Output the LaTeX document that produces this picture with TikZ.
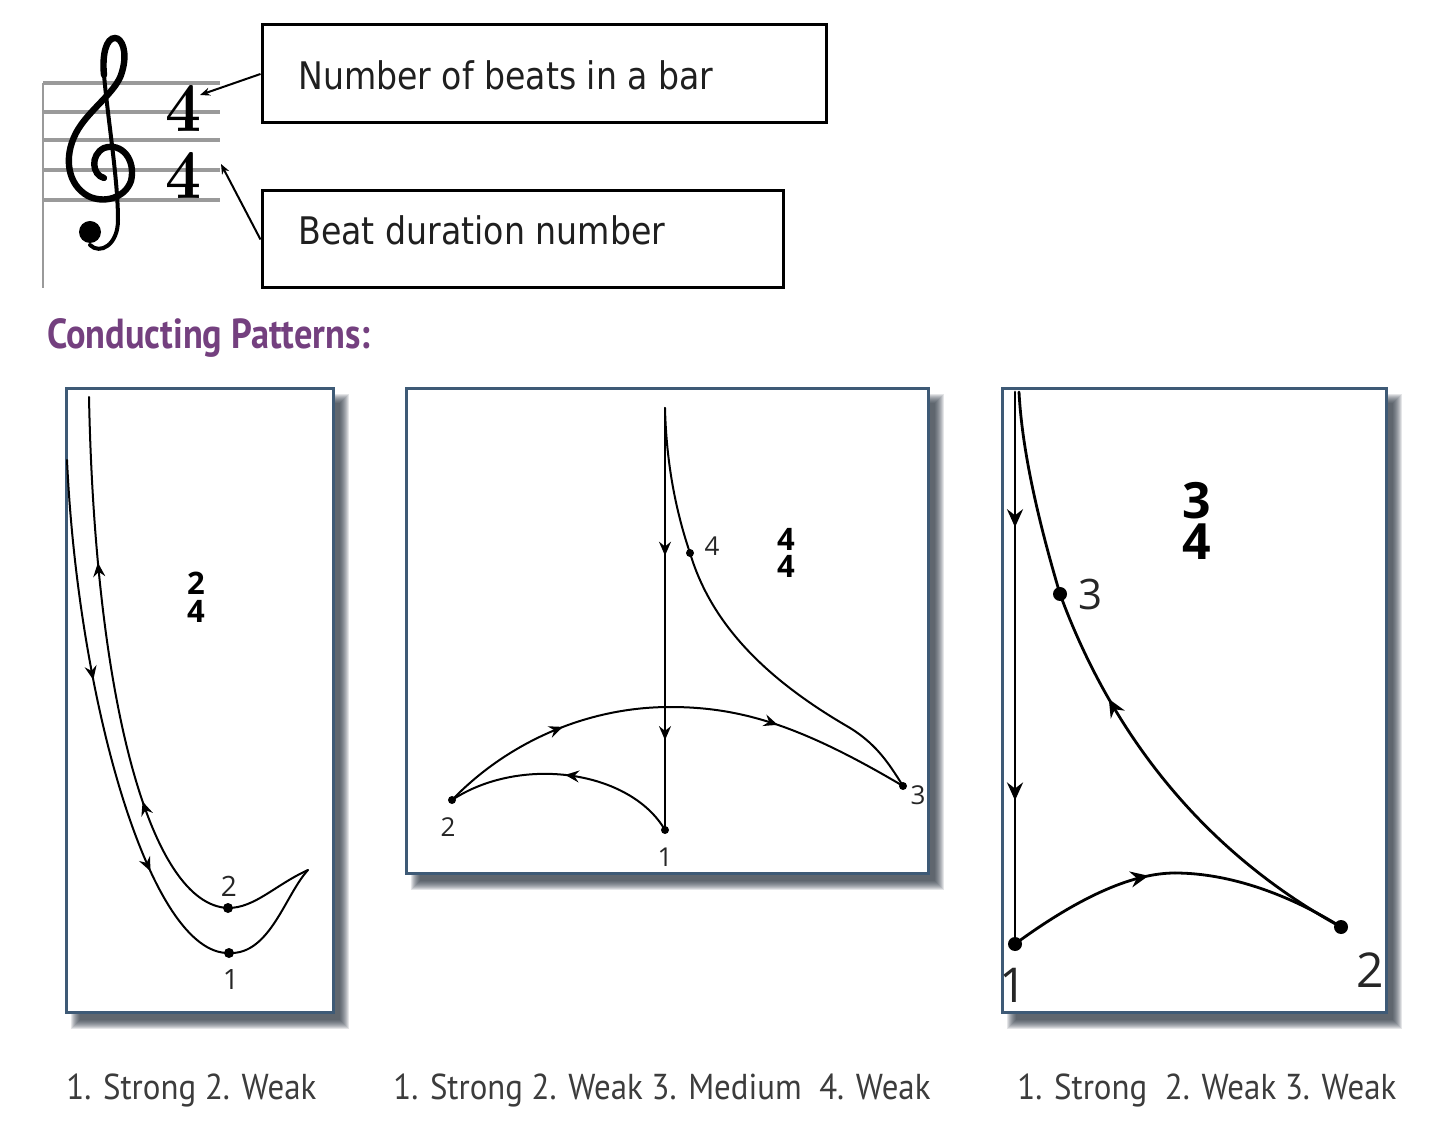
\documentclass[tikz,border=0pt]{standalone}
\usepackage{fontspec}
\usepackage{graphicx}
\usetikzlibrary{arrows.meta,decorations.markings}
\newfontfamily\boxfont{DejaVu Sans}
\newfontfamily\ptsans{PT Sans}
\newfontfamily\osans{Open Sans}
\definecolor{purp}{HTML}{74407F}
\definecolor{pborder}{HTML}{3E5A76}
\definecolor{shadowc}{HTML}{26303C}
\definecolor{labelc}{HTML}{3C3C3C}
\definecolor{staffc}{HTML}{9A9A9A}
\newcommand\pshadow[4]{\foreach \i in {0,...,9}{\fill[shadowc,opacity=0.12] ({#1+14-\i},{#2+14-\i}) rectangle ({#3+7+\i},{#4+8+\i});}}
\tikzset{
  panel/.style={draw=pborder, line width=1.5pt, fill=white, rectangle, inner sep=0pt},
  tbox/.style={draw=black, line width=1.5pt, rectangle, inner sep=0pt},
  curve/.style={line width=1pt, line cap=round},
  bcurve/.style={line width=1.4pt, line cap=round},
  dot/.style={circle, fill=black, inner sep=0pt, minimum size=#1},
  dot/.default=5pt,
  mk/.style={postaction={decorate,decoration={markings,mark=at position #1 with {\arrow{Stealth[length=7pt,width=6pt,inset=2.4pt]}}}}},
  mkb/.style={postaction={decorate,decoration={markings,mark=at position #1 with {\arrow{Stealth[length=9pt,width=8pt,inset=3pt]}}}}},
  lab/.style={inner sep=0pt, font=\osans\fontsize{14}{14}\selectfont, text=black!85},
  frac/.style={inner sep=0pt, align=center, font=\osans\bfseries\fontsize{15.5}{14}\selectfont},
  txt/.style={anchor=base west, inner sep=0pt},
  ptr/.style={line width=1pt, -{Stealth[length=5pt,width=4pt]}}
}
\begin{document}
\begin{tikzpicture}[x=0.5pt,y=-0.5pt]
\useasboundingbox (0,0) rectangle (1456,1122);
\fill[white] (0,0) rectangle (1456,1122);

% ---------- staff ----------
\foreach \yy in {83,112,140,170,200}{\draw[staffc, line width=1.6pt] (43,\yy) -- (220,\yy);}
\draw[staffc, line width=1.2pt] (43,83) -- (43,288);
% treble clef
\draw[line width=3.2pt, line cap=round]
  (104,178) .. controls (92,175) and (90,155) .. (104,148)
  .. controls (122,142) and (136,160) .. (131,181)
  .. controls (125,198) and (104,204) .. (88,196)
  .. controls (68,185) and (63,158) .. (76,133)
  .. controls (88,110) and (117,92) .. (122,72)
  .. controls (128,52) and (122,38) .. (115,38)
  .. controls (106,38) and (102,55) .. (104,75);
\draw[line width=2pt, line cap=round]
  (104,75) .. controls (108,120) and (118,180) .. (118,220)
  .. controls (118,245) and (100,255) .. (90,245);
\fill (90,232) circle (11);
% time signature
\node[inner sep=0pt] (tsa) at (183,109) {\resizebox{18pt}{23pt}{\bfseries 4}};
\node[inner sep=0pt] (tsb) at (183,176) {\resizebox{18pt}{23pt}{\bfseries 4}};
\coordinate (ts1) at (200,95);
\coordinate (ts2) at (221,164);

% ---------- boxes ----------
\node[tbox, minimum width=282pt, minimum height=49pt] (box1) at (544,74) {};
\node[tbox, minimum width=260.5pt, minimum height=48.5pt] (box2) at (522.5,239.5) {};
\node[txt, text=black!88] (t1) at (298,90) {\resizebox{207.5pt}{\height}{\boxfont\fontsize{19}{19}\selectfont Number of beats in a bar}};
\node[txt, text=black!88] (t2) at (298,245) {\resizebox{183.5pt}{\height}{\boxfont\fontsize{19}{19}\selectfont Beat duration number}};
\draw[ptr] (box1.west) -- (ts1);
\draw[ptr] (box2.west) -- (ts2);

% ---------- title ----------
\node[txt, text=purp] (title) at (47,349) {\resizebox{161.5pt}{\height}{\ptsans\bfseries\fontsize{21}{21}\selectfont Conducting Patterns:}};

% ---------- panels ----------
\pshadow{66}{389}{333}{1012}
\pshadow{406}{389}{928}{873}
\pshadow{1002}{389}{1386}{1012}
\node[panel, minimum width=133.5pt, minimum height=311.5pt] (pan1) at (199.5,700.5) {};
\node[panel, minimum width=261pt, minimum height=242pt] (pan2) at (667,631) {};
\node[panel, minimum width=192pt, minimum height=311.5pt] (pan3) at (1194,700.5) {};

% ---------- panel 1 : 2/4 ----------
\coordinate (p1s) at (67,460);
\coordinate (p1tip) at (308,870);
\coordinate (p1top) at (89,397);
\node[dot] (d1a) at (229,953) {};
\node[dot] (d1b) at (228,908) {};
\draw[curve, mk=0.41, mk=0.78] (p1s) .. controls (78,700) and (150,955) .. (d1a.center);
\draw[curve] (d1a.center) .. controls (270,955) and (285,895) .. (p1tip);
\draw[curve] (p1tip) .. controls (275,885) and (255,908) .. (d1b.center);
\draw[curve, mk=0.26, mk=0.70] (d1b.center) .. controls (150,905) and (95,700) .. (p1top);
\node[lab] (l1b) at (229,886) {2};
\node[lab] (l1a) at (231,980) {1};
\node[frac] (f1) at (196,597) {2\\4};

% ---------- panel 2 : 4/4 ----------
\coordinate (p2top) at (665,408);
\coordinate (p2peak) at (670,707);
\coordinate (p2w) at (845,725);
\node[dot=4pt] (d2a) at (665,830) {};
\node[dot=4pt] (d2b) at (452,800) {};
\node[dot=4pt] (d2c) at (903,786) {};
\node[dot=4pt] (d2d) at (690,553) {};
\draw[curve, mk=0.35, mk=0.787] (p2top) -- (d2a.center);
\draw[curve, mk=0.5] (d2a.center) .. controls (630,770) and (520,755) .. (d2b.center);
\draw[curve, mk=0.55] (d2b.center) .. controls (510,740) and (590,707) .. (p2peak);
\draw[curve, mk=0.44] (p2peak) .. controls (740,707) and (800,725) .. (d2c.center);
\draw[curve] (d2c.center) .. controls (888,762) and (875,742) .. (p2w)
  .. controls (760,675) and (710,620) .. (d2d.center)
  .. controls (672,500) and (666,450) .. (p2top);
\node[lab, font=\osans\fontsize{13}{13}\selectfont] (l2d) at (712,546) {4};
\node[lab, font=\osans\fontsize{13}{13}\selectfont] (l2b) at (448,827) {2};
\node[lab, font=\osans\fontsize{13}{13}\selectfont] (l2a) at (665,857) {1};
\node[lab, font=\osans\fontsize{13}{13}\selectfont] (l2c) at (918,795) {3};
\node[frac, font=\osans\bfseries\fontsize{15.5}{13.5}\selectfont] (f2) at (786,553) {4\\4};

% ---------- panel 3 : 3/4 ----------
\coordinate (p3top) at (1015,392);
\coordinate (p3top2) at (1019,392);
\coordinate (p3peak) at (1175,873);
\node[dot=7pt] (d3a) at (1015,944) {};
\node[dot=7pt] (d3b) at (1341,927) {};
\node[dot=7pt] (d3c) at (1060,594) {};
\draw[bcurve, mkb=0.245, mkb=0.74] (p3top) -- (d3a.center);
\draw[bcurve, mkb=0.85] (d3a.center) .. controls (1075,900) and (1130,873) .. (p3peak);
\draw[bcurve] (p3peak) .. controls (1230,873) and (1290,895) .. (d3b.center);
\draw[bcurve, mkb=0.74] (d3b.center) .. controls (1200,850) and (1110,730) .. (d3c.center);
\draw[bcurve] (d3c.center) .. controls (1038,520) and (1022,450) .. (p3top2);
\node[lab, font=\osans\fontsize{21}{21}\selectfont] (l3c) at (1090,594) {3};
\node[lab, font=\osans\fontsize{24}{24}\selectfont] (l3b) at (1370,970) {2};
\node[lab, font=\osans\fontsize{24}{24}\selectfont] (l3a) at (1013,985) {1};
\node[frac, font=\osans\bfseries\fontsize{25}{20.5}\selectfont] (f3) at (1197,521) {3\\4};

% ---------- captions ----------
\node[txt, text=labelc] (c1) at (66,1099) {\resizebox{125pt}{\height}{\ptsans\fontsize{18}{18}\selectfont 1. Strong 2. Weak}};
\node[txt, text=labelc] (c2) at (393,1099) {\resizebox{268.5pt}{\height}{\ptsans\fontsize{18}{18}\selectfont 1. Strong 2. Weak 3. Medium\ \ 4. Weak}};
\node[txt, text=labelc] (c3) at (1017,1099) {\resizebox{189.5pt}{\height}{\ptsans\fontsize{18}{18}\selectfont 1. Strong\ \ 2. Weak 3. Weak}};
\end{tikzpicture}
\end{document}
